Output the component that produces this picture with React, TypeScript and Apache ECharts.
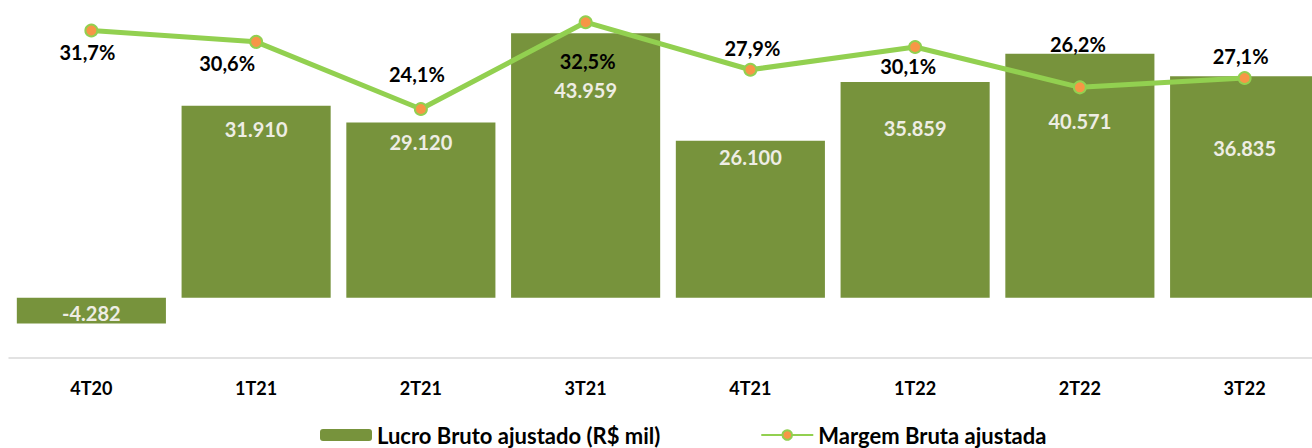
import React, { useEffect, useRef } from "react";
import * as echarts from "echarts";

const categories = ["4T20", "1T21", "2T21", "3T21", "4T21", "1T22", "2T22", "3T22"];
const lucroBruto = [-4282, 31910, 29120, 43959, 26100, 35859, 40571, 36835];
const margemBruta = [31.7, 30.6, 24.1, 32.5, 27.9, 30.1, 26.2, 27.1];

const barName = "Lucro Bruto ajustado (R$ mil)";
const lineName = "Margem Bruta ajustada";

// label placement (pixels), kept apart from the data
const barLabelDy = [0, 23, 19, 57, 16, 46, 67, 72];
const lineLabelOffset: [number, number][] = [
  [-4, 22],
  [-29, 21],
  [-4, -35],
  [2, 39],
  [2, -22],
  [-7, 19],
  [-2, -43],
  [-4, -22],
];

const FONT = "Lato, 'Open Sans', sans-serif";

const fmtThousands = (v: number) => {
  const s = Math.abs(v).toString().replace(/\B(?=(\d{3})+(?!\d))/g, ".");
  return (v < 0 ? "-" : "") + s;
};
const fmtPct = (v: number) => v.toFixed(1).replace(".", ",") + "%";

export default function App() {
  const ref = useRef<HTMLDivElement>(null);
  useEffect(() => {
    if (!ref.current) return;
    const chart = echarts.init(ref.current, undefined, { renderer: "svg" });
    const barData = lucroBruto.map((v, i) => ({
      value: v,
      label:
        v < 0
          ? { position: "inside", offset: [0, 2] }
          : { position: "insideTop", distance: 0, verticalAlign: "middle", offset: [0, barLabelDy[i]] },
    }));
    const lineData = margemBruta.map((v, i) => ({
      value: v,
      label: { position: "inside", offset: lineLabelOffset[i] },
    }));
    chart.setOption({
      animation: false,
      grid: {
        left: 9,
        width: 1318,
        top: 0,
        height: 358,
        containLabel: false,
        outerBoundsMode: "none",
      },
      legend: {
        left: 315,
        top: 419,
        itemWidth: 52,
        itemHeight: 12,
        itemGap: 100,
        textStyle: {
          fontFamily: FONT,
          fontWeight: "bold",
          fontSize: 22,
          lineHeight: 22,
          color: "#000",
        },
        data: [barName, lineName],
      },
      xAxis: {
        type: "category",
        data: categories,
        axisLine: { onZero: false, lineStyle: { color: "#D9D9D9", width: 1.5 } },
        axisTick: { show: false },
        axisLabel: {
          margin: 21,
          fontFamily: FONT,
          fontWeight: "bold",
          fontSize: 18,
          color: "#000",
        },
        splitLine: { show: false },
      },
      yAxis: [
        { type: "value", min: -10000, max: 49500, show: false, splitLine: { show: false } },
        { type: "value", min: 0, max: 34.65, show: false, splitLine: { show: false } },
      ],
      series: [
        {
          name: barName,
          type: "bar",
          yAxisIndex: 0,
          data: barData,
          barCategoryGap: "9.5%",
          itemStyle: { color: "#77933C" },
          label: {
            show: true,
            color: "#EEEDE4",
            fontFamily: FONT,
            fontWeight: "bold",
            fontSize: 20,
            formatter: (p: any) => fmtThousands(p.value),
          },
          z: 2,
        },
        {
          name: lineName,
          type: "line",
          yAxisIndex: 1,
          data: lineData,
          symbol: "circle",
          symbolSize: 12,
          itemStyle: { color: "#F79646", borderColor: "#92D050", borderWidth: 2 },
          lineStyle: { color: "#92D050", width: 5 },
          label: {
            show: true,
            color: "#000",
            fontFamily: FONT,
            fontWeight: "bold",
            fontSize: 20,
            verticalAlign: "middle",
            align: "center",
            formatter: (p: any) => fmtPct(p.value),
          },
          z: 5,
        },
      ],
    });
    return () => chart.dispose();
  }, []);
  return (
    <div
      ref={ref}
      style={{ position: "fixed", left: 0, top: 0, width: 1312, height: 448, background: "#fff" }}
    />
  );
}
